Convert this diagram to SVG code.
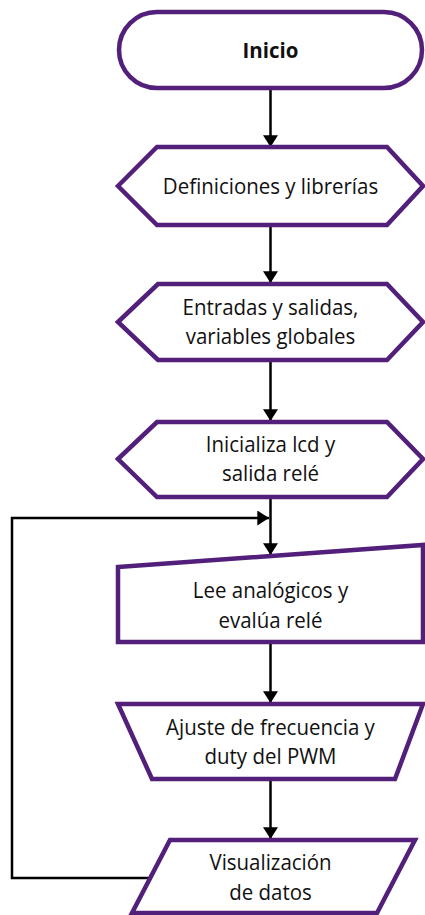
<svg xmlns="http://www.w3.org/2000/svg" width="425" height="915" viewBox="0 0 425 915">
<defs>
<style>
.n{fill:#fff;stroke:#521f7a;stroke-width:4.5;stroke-linejoin:miter}
.t{font-family:"Open Sans","Noto Sans",sans-serif;font-size:22px;fill:#111;text-anchor:middle}
.b{font-weight:bold}
.c{fill:none;stroke:#000;stroke-width:2.5}
</style>
<marker id="a" viewBox="0 0 14 18" refX="14" refY="9" markerWidth="19" markerHeight="15" markerUnits="userSpaceOnUse" orient="auto">
<path d="M0,0 L14,9 L0,18 z" fill="#000"/>
</marker>
</defs>
<g id="connectors">
<path class="c" d="M270.5,89 V147" marker-end="url(#a)"/>
<path class="c" d="M270.5,225 V283" marker-end="url(#a)"/>
<path class="c" d="M270.5,360 V421" marker-end="url(#a)"/>
<path class="c" d="M270.5,497 V555" marker-end="url(#a)"/>
<path class="c" d="M270.5,642 V703" marker-end="url(#a)"/>
<path class="c" d="M270.5,779 V839" marker-end="url(#a)"/>
<path class="c" d="M151,878 H12 V518 H269" marker-end="url(#a)"/>
</g>
<g id="inicio">
<rect class="n" x="119" y="12" width="303" height="76" rx="38" ry="38"/>
<text class="t b" transform="matrix(0.93,0,0,1,270.5,58)">Inicio</text>
</g>
<g id="definiciones">
<polygon class="n" points="118,186 157,147 387,147 423,186 387,225 157,225"/>
<text class="t" transform="matrix(0.93,0,0,1,270.5,194)">Definiciones y librerías</text>
</g>
<g id="entradas">
<polygon class="n" points="118,322 158,284 387,284 423,322 387,360 158,360"/>
<text class="t" transform="matrix(0.93,0,0,1,270.5,315)">Entradas y salidas,</text>
<text class="t" transform="matrix(0.93,0,0,1,270.5,344)">variables globales</text>
</g>
<g id="inicializa">
<polygon class="n" points="118,459 157,422 387,422 423,459 387,497 157,497"/>
<text class="t" transform="matrix(0.93,0,0,1,270.5,452)">Inicializa lcd y</text>
<text class="t" transform="matrix(0.93,0,0,1,270.5,481)">salida relé</text>
</g>
<g id="lee">
<polygon class="n" points="118,567 423,545 423,642 118,642"/>
<text class="t" transform="matrix(0.93,0,0,1,270.5,598)">Lee analógicos y</text>
<text class="t" transform="matrix(0.93,0,0,1,270.5,628)">evalúa relé</text>
</g>
<g id="ajuste">
<polygon class="n" points="118,704 423,704 395,779 152,779"/>
<text class="t" transform="matrix(0.93,0,0,1,270.5,735)">Ajuste de frecuencia y</text>
<text class="t" transform="matrix(0.93,0,0,1,270.5,764)">duty del PWM</text>
</g>
<g id="visualizacion">
<polygon class="n" points="170,840 415,840 377,913 132,913"/>
<text class="t" transform="matrix(0.93,0,0,1,270.5,870)">Visualización</text>
<text class="t" transform="matrix(0.93,0,0,1,270.5,900)">de datos</text>
</g>
</svg>
